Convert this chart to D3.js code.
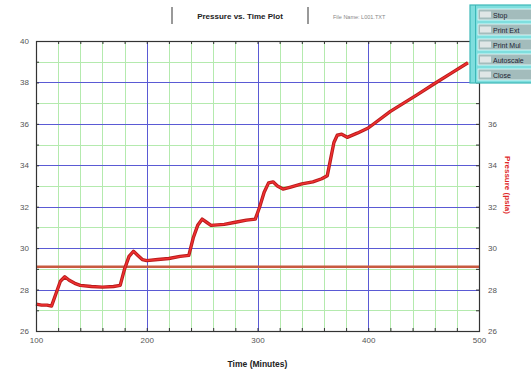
<!DOCTYPE html>
<html>
<head>
<meta charset="utf-8">
<script src="https://cdn.jsdelivr.net/npm/d3@7"></script>
<style>
  html, body { margin: 0; padding: 0; background: #fff; }
  svg { display: block; font-family: "Liberation Sans", Arial, sans-serif; }
</style>
</head>
<body>
<svg id="chart" width="531" height="381"></svg>
<script>
// Run time (minutes) and measured pressure (psia)
const timeMin = [100, 105, 110, 114, 118, 122, 126, 130, 135, 140, 150, 160, 170, 176,
  180, 184, 188, 192, 196, 200, 210, 220, 230, 238, 242, 246, 250, 254, 258, 270,
  280, 290, 298, 302, 306, 310, 314, 318, 323, 330, 340, 350, 358, 363, 366, 369,
  372, 376, 381, 390, 400, 420, 444, 460, 475, 490];
const pressure = [27.3, 27.25, 27.25, 27.2, 27.8, 28.4, 28.62, 28.45, 28.3, 28.2, 28.15, 28.12, 28.15, 28.2,
  29.0, 29.6, 29.85, 29.65, 29.45, 29.4, 29.45, 29.5, 29.6, 29.65, 30.5, 31.1, 31.4, 31.25, 31.1, 31.15,
  31.25, 31.35, 31.4, 32.0, 32.7, 33.15, 33.2, 33.0, 32.85, 32.95, 33.1, 33.2, 33.35, 33.5, 34.3, 35.1,
  35.45, 35.5, 35.35, 35.55, 35.8, 36.6, 37.4, 37.95, 38.45, 38.95];
// Set-point reference level
const setPoint = [29.1];

// Axis ticks
const xTicks = [100, 200, 300, 400, 500];
const xMinor = d3.range(100, 501, 20);
const yTicksLeft = [26, 28, 30, 32, 34, 36, 38, 40];
const yTicksRight = [26, 28, 30, 32, 34, 36];
const yMinor = d3.range(26, 41, 1);

// Panel buttons
const buttons = ["Stop", "Print Ext", "Print Mul", "Autoscale", "Close"];

const svg = d3.select("#chart");
const L = 36, R = 479, T = 41, B = 331;
const x = d3.scaleLinear().domain([100, 500]).range([L, R]);
const y = d3.scaleLinear().domain([26, 40]).range([B, T]);
// snap grid lines to pixel centres
const px = v => Math.round(v) + 0.5;

// Grid: minor (green) then major (blue)
const grid = svg.append("g");
grid.selectAll(".vm").data(xMinor.filter(d => d % 100 !== 0)).join("line")
  .attr("x1", d => px(x(d))).attr("x2", d => px(x(d))).attr("y1", T).attr("y2", B)
  .attr("stroke", "#b4eaae").attr("stroke-width", 1);
grid.selectAll(".hm").data(yMinor.filter(d => d % 2 !== 0)).join("line")
  .attr("x1", L).attr("x2", R).attr("y1", d => px(y(d))).attr("y2", d => px(y(d)))
  .attr("stroke", "#b4eaae").attr("stroke-width", 1);
grid.selectAll(".vM").data(xTicks.slice(1, -1)).join("line")
  .attr("x1", d => px(x(d))).attr("x2", d => px(x(d))).attr("y1", T).attr("y2", B)
  .attr("stroke", "#5a5ad4").attr("stroke-width", 1);
grid.selectAll(".hM").data(yTicksLeft.slice(1, -1)).join("line")
  .attr("x1", L).attr("x2", R).attr("y1", d => px(y(d))).attr("y2", d => px(y(d)))
  .attr("stroke", "#5a5ad4").attr("stroke-width", 1);

// Set-point line
svg.selectAll(".sp").data(setPoint).join("line")
  .attr("x1", L).attr("x2", R).attr("y1", d => y(d)).attr("y2", d => y(d))
  .attr("stroke", "#c85a40").attr("stroke-width", 2.5);

// Pressure trace
const pts = timeMin.map((t, i) => [t, pressure[i]]);
const line = d3.line().x(d => x(d[0])).y(d => y(d[1]));
svg.append("path").datum(pts).attr("d", line)
  .attr("fill", "none").attr("stroke", "#b81c1c").attr("stroke-width", 3.4)
  .attr("stroke-linejoin", "round");
svg.append("path").datum(pts).attr("d", line)
  .attr("fill", "none").attr("stroke", "#f03030").attr("stroke-width", 1.5)
  .attr("stroke-linejoin", "round");

// Frame and inward ticks via axes
const tickStyle = g => {
  g.select(".domain").remove();
  g.selectAll("line").attr("stroke", "#333");
  g.selectAll("text").attr("fill", "#555").attr("font-size", 8);
};
svg.append("g").attr("transform", `translate(0,${B})`)
  .call(d3.axisBottom(x).tickValues(xTicks).tickSize(0).tickPadding(6).tickFormat(d3.format("d")))
  .call(tickStyle);
svg.append("g").attr("transform", `translate(0,${B})`)
  .call(d3.axisTop(x).tickValues(xMinor).tickSize(3).tickFormat(""))
  .call(tickStyle);
svg.append("g").attr("transform", `translate(0,${T})`)
  .call(d3.axisBottom(x).tickValues(xMinor).tickSize(3).tickFormat(""))
  .call(tickStyle);
svg.append("g").attr("transform", `translate(${L},0)`)
  .call(d3.axisLeft(y).tickValues(yTicksLeft).tickSize(0).tickPadding(7).tickFormat(d3.format("d")))
  .call(tickStyle);
svg.append("g").attr("transform", `translate(${L},0)`)
  .call(d3.axisRight(y).tickValues(yMinor).tickSize(3).tickFormat(""))
  .call(tickStyle);
svg.append("g").attr("transform", `translate(${R},0)`)
  .call(d3.axisRight(y).tickValues(yTicksRight).tickSize(0).tickPadding(9).tickFormat(d3.format("d")))
  .call(tickStyle);
svg.append("g").attr("transform", `translate(${R},0)`)
  .call(d3.axisLeft(y).tickValues(yMinor).tickSize(3).tickFormat(""))
  .call(tickStyle);
svg.append("rect").attr("x", L + 0.5).attr("y", T + 0.5).attr("width", R - L).attr("height", B - T)
  .attr("fill", "none").attr("stroke", "#333").attr("stroke-width", 1.2);

// Axis titles
svg.append("text").attr("x", (L + R) / 2).attr("y", 367).attr("text-anchor", "middle")
  .attr("font-size", 8.5).attr("font-weight", "bold").attr("fill", "#222").text("Time (Minutes)");
svg.append("text").attr("transform", `translate(505,${(y(36.5) + y(29.6)) / 2}) rotate(90)`)
  .attr("text-anchor", "middle").attr("font-size", 8).attr("font-weight", "bold")
  .attr("fill", "#e02828").text("Pressure (psia)");

// Title block
svg.append("line").attr("x1", 172).attr("x2", 172).attr("y1", 7).attr("y2", 24).attr("stroke", "#777").attr("stroke-width", 1.5);
svg.append("line").attr("x1", 308).attr("x2", 308).attr("y1", 7).attr("y2", 24).attr("stroke", "#777").attr("stroke-width", 1.5);
svg.append("text").attr("x", 240).attr("y", 18.5).attr("text-anchor", "middle")
  .attr("font-size", 8).attr("font-weight", "bold").attr("fill", "#222").text("Pressure vs. Time Plot");
svg.append("text").attr("x", 333).attr("y", 18.5)
  .attr("font-size", 5.5).attr("fill", "#888").text("File Name: L001.TXT");

// Button panel
const panel = svg.append("g");
panel.append("rect").attr("x", 470).attr("y", 5).attr("width", 70).attr("height", 78)
  .attr("fill", "#7fdede").attr("stroke", "#3cb8b8").attr("stroke-width", 1.2);
panel.append("line").attr("x1", 475.5).attr("x2", 475.5).attr("y1", 5).attr("y2", 83)
  .attr("stroke", "#3cb8b8");
const btn = panel.selectAll(".btn").data(buttons).join("g")
  .attr("transform", (d, i) => `translate(478,${9 + i * 15})`);
btn.append("rect").attr("width", 60).attr("height", 11).attr("fill", "#a3bcbc").attr("stroke", "#e8ffff").attr("stroke-width", 0.8);
btn.append("rect").attr("x", 2).attr("y", 2.5).attr("width", 11).attr("height", 6).attr("fill", "#dfe6e6");
btn.append("text").attr("x", 15).attr("y", 8.5).attr("font-size", 7).attr("fill", "#223").text(d => d);
</script>
</body>
</html>
